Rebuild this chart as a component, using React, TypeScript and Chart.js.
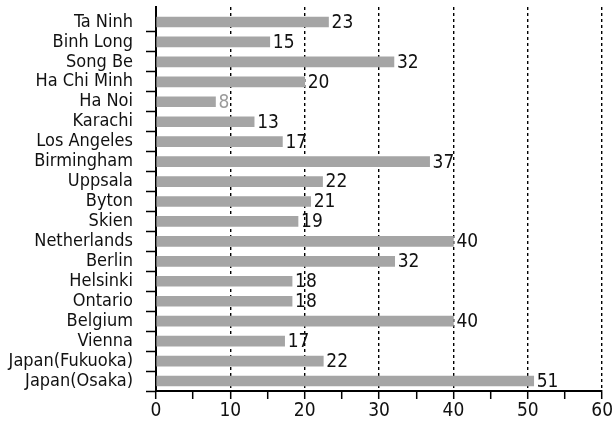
import React, { useEffect, useRef } from "react";
import { Chart, registerables } from "chart.js";

Chart.register(...registerables);

const categories = [
  "Ta Ninh",
  "Binh Long",
  "Song Be",
  "Ha Chi Minh",
  "Ha Noi",
  "Karachi",
  "Los Angeles",
  "Birmingham",
  "Uppsala",
  "Byton",
  "Skien",
  "Netherlands",
  "Berlin",
  "Helsinki",
  "Ontario",
  "Belgium",
  "Vienna",
  "Japan(Fukuoka)",
  "Japan(Osaka)",
];

const values = [
  23.2, 15.3, 32, 20, 8, 13.2, 17, 36.8, 22.4, 20.8, 19.1, 40, 32.1, 18.3, 18.3,
  40, 17.3, 22.5, 50.8,
];

const valueLabels = [
  "23", "15", "32", "20", "8", "13", "17", "37", "22", "21", "19", "40", "32",
  "18", "18", "40", "17", "22", "51",
];

const mutedCategories = ["Ha Noi"];

const xMin = 0;
const xMax = 60;
const xMinorStep = 5;
const xMajorStep = 10;

const FONT = '"DejaVu Sans Condensed", "Liberation Sans Narrow", sans-serif';

export default function App() {
  const ref = useRef<HTMLCanvasElement>(null);

  useEffect(() => {
    document.body.style.margin = "0";
    const canvas = ref.current;
    if (!canvas) return;

    const valueLabelPlugin = {
      id: "valueLabels",
      afterDatasetsDraw(chart: any) {
        const ctx = chart.ctx;
        const meta = chart.getDatasetMeta(0);
        ctx.save();
        ctx.font = `19px ${FONT}`;
        ctx.textBaseline = "middle";
        ctx.textAlign = "left";
        meta.data.forEach((bar: any, i: number) => {
          ctx.fillStyle = mutedCategories.includes(categories[i])
            ? "#9c9c9c"
            : "#111";
          ctx.fillText(valueLabels[i], bar.x + 3, bar.y + 1);
        });
        ctx.restore();
      },
    };

    // rows start a little below the top of the plotting frame
    const rowInset = {
      id: "rowInset",
      afterLayout(chart: any) {
        const y = chart.scales.y;
        y._startPixel += 5;
        y._length -= 5;
      },
    };

    const chart = new Chart(canvas, {
      type: "bar",
      data: {
        labels: categories,
        datasets: [
          {
            data: values,
            backgroundColor: "#a5a5a5",
            borderWidth: 0,
            barThickness: 10,
          },
        ],
      },
      options: {
        indexAxis: "y",
        animation: false,
        responsive: false,
        devicePixelRatio: 1,
        layout: { padding: { top: 7, right: 11, left: 0, bottom: 0 } },
        plugins: {
          legend: { display: false },
          tooltip: { enabled: false },
        },
        scales: {
          x: {
            type: "linear",
            min: xMin,
            max: xMax,
            ticks: {
              stepSize: xMinorStep,
              autoSkip: false,
              maxRotation: 0,
              padding: 1,
              color: "#111",
              font: { family: FONT, size: 19, lineHeight: 1.2 },
              callback: (v: any) =>
                Number(v) % xMajorStep === 0 ? String(v) : "",
            },
            grid: {
              color: (ctx: any) =>
                ctx.tick &&
                ctx.tick.value % xMajorStep === 0 &&
                ctx.tick.value !== xMin
                  ? "#000"
                  : "rgba(0,0,0,0)",
              lineWidth: 1.4,
              drawTicks: true,
              tickLength: 8,
              tickWidth: 1.5,
              tickColor: "#000",
              tickBorderDash: [],
            },
            border: { display: true, color: "#000", width: 2, dash: [3, 3] },
            afterFit: (s: any) => {
              s.height = 32;
            },
          },
          y: {
            type: "category",
            ticks: {
              autoSkip: false,
              padding: 13,
              color: "#111",
              font: { family: FONT, size: 18, lineHeight: 1.0 },
            },
            grid: {
              offset: true,
              drawOnChartArea: false,
              drawTicks: true,
              tickLength: 10,
              tickWidth: 1.5,
              tickColor: (ctx: any) =>
                ctx.index === 0 ? "rgba(0,0,0,0)" : "#000",
            },
            border: { display: true, color: "#000", width: 2 },
            afterFit: (s: any) => {
              s.width = 156;
              s.paddingTop = 0;
              s.paddingBottom = 0;
            },
          },
        },
      },
      plugins: [valueLabelPlugin, rowInset],
    } as any);

    return () => chart.destroy();
  }, []);

  return (
    <div style={{ width: 614, height: 423 }}>
      <canvas
        ref={ref}
        width={614}
        height={423}
        style={{ display: "block", width: 614, height: 423 }}
      />
    </div>
  );
}
